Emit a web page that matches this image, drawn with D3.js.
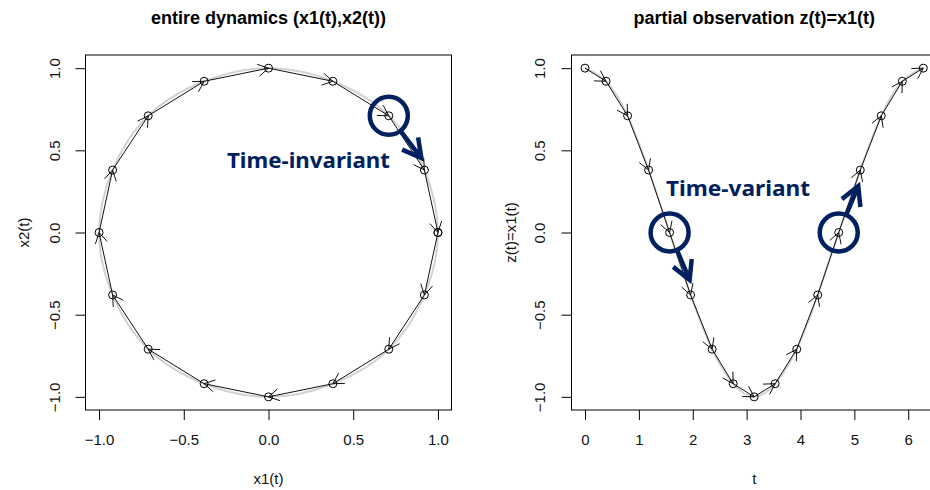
<!DOCTYPE html>
<html>
<head>
<meta charset="utf-8">
<script src="https://cdn.jsdelivr.net/npm/d3@7"></script>
<style>
  body { margin: 0; background: #fff; }
  svg { display: block; font-family: "Liberation Sans", Arial, sans-serif; }
</style>
</head>
<body>
<svg id="chart" width="930" height="490"></svg>
<script>
const tVals  = [0, 0.39, 0.79, 1.18, 1.57, 1.96, 2.36, 2.75, 3.14, 3.53, 3.93, 4.32, 4.71, 5.11, 5.50, 5.89, 6.28];
const x1Vals = [1, 0.92, 0.71, 0.38, 0, -0.38, -0.71, -0.92, -1, -0.92, -0.71, -0.38, 0, 0.38, 0.71, 0.92, 1];
const x2Vals = [0, -0.38, -0.71, -0.92, -1, -0.92, -0.71, -0.38, 0, 0.38, 0.71, 0.92, 1, 0.92, 0.71, 0.38, 0];

// tick labels
const unitTicks = [-1, -0.5, 0, 0.5, 1];
const tTicks = [0, 1, 2, 3, 4, 5, 6];

const titles = ["entire dynamics (x1(t),x2(t))", "partial observation z(t)=x1(t)"];
const xLabels = ["x1(t)", "t"];
const yLabels = ["x2(t)", "z(t)=x1(t)"];

const navy = "#002060";
const svg = d3.select("#chart");
svg.append("rect").attr("width", 930).attr("height", 490).attr("fill", "#fff");

// arrow path: shaft a->b plus open V head at b
function arrowPath(a, b, len, ang) {
    const th = Math.atan2(b[1] - a[1], b[0] - a[0]);
    const h1 = [b[0] - len * Math.cos(th - ang), b[1] - len * Math.sin(th - ang)];
    const h2 = [b[0] - len * Math.cos(th + ang), b[1] - len * Math.sin(th + ang)];
    return `M${a[0]},${a[1]}L${b[0]},${b[1]}M${h1[0]},${h1[1]}L${b[0]},${b[1]}L${h2[0]},${h2[1]}`;
}

function panel(opt) {
    const x = d3.scaleLinear().domain(opt.xDomain).range([opt.left, opt.right]);
    const y = d3.scaleLinear().domain([-1.08, 1.08]).range([410, 55]);
    const g = svg.append("g");

    // axes, R style: outward ticks, no domain line
    const xa = g.append("g")
        .attr("transform", `translate(0,410)`)
        .call(d3.axisBottom(x).tickValues(opt.xTicks).tickSize(10).tickPadding(14).tickSizeOuter(0)
            .tickFormat(opt.xFormat));
    const ya = g.append("g")
        .attr("transform", `translate(${opt.left},0)`)
        .call(d3.axisLeft(y).tickValues(unitTicks).tickSize(10).tickSizeOuter(0)
            .tickFormat(d3.format(".1f")));
    [xa, ya].forEach(a => {
        a.select(".domain").remove();
        a.selectAll("line").attr("stroke", "#000");
        a.selectAll("text").attr("font-size", 15).attr("fill", "#111")
            .attr("font-family", "Liberation Sans, Arial, sans-serif");
    });
    ya.selectAll("text")
        .attr("x", 0).attr("y", 0).attr("dy", "0.35em")
        .attr("text-anchor", "middle")
        .attr("transform", `translate(${-opt.tickOff},0) rotate(-90)`);

    // plot box
    g.append("rect")
        .attr("x", opt.left).attr("y", 55)
        .attr("width", opt.right - opt.left).attr("height", 355)
        .attr("fill", "none").attr("stroke", "#000").attr("stroke-width", 1);

    const cx = (opt.left + opt.right) / 2;
    g.append("text").attr("x", cx).attr("y", 24)
        .attr("text-anchor", "middle").attr("font-size", 18).attr("font-weight", "bold")
        .text(opt.title);
    g.append("text").attr("x", cx).attr("y", 484)
        .attr("text-anchor", "middle").attr("font-size", 15).attr("fill", "#111")
        .text(opt.xLabel);
    g.append("text")
        .attr("transform", `translate(${opt.left - opt.labOff},232.5) rotate(-90)`)
        .attr("dy", "0.35em")
        .attr("text-anchor", "middle").attr("font-size", 15).attr("fill", "#111")
        .text(opt.yLabel);

    const plot = g.append("g");
    const pts = opt.xs.map((v, i) => [x(v), y(opt.ys[i])]);

    // smooth reference curve (light grey)
    plot.append("path")
        .attr("d", d3.line().curve(opt.curve)(opt.closed ? pts.slice(0, -1) : pts))
        .attr("fill", "none").attr("stroke", "#d2d2d2").attr("stroke-width", 2);

    // step arrows
    plot.selectAll(".step").data(d3.range(pts.length - 1)).enter()
        .append("path").attr("class", "step")
        .attr("d", i => arrowPath(pts[i], pts[i + 1], 12, Math.PI / 6))
        .attr("fill", "none").attr("stroke", "#111").attr("stroke-width", 1);

    // sample points
    plot.selectAll(".pt").data(pts).enter()
        .append("circle").attr("class", "pt")
        .attr("cx", d => d[0]).attr("cy", d => d[1]).attr("r", 4)
        .attr("fill", "none").attr("stroke", "#000").attr("stroke-width", 1);

    return {g, x, y, pts};
}

const L = panel({
    left: 85.5, right: 451.5, xDomain: [-1.08, 1.08], xTicks: unitTicks,
    xFormat: d3.format(".1f"), tickOff: 31, labOff: 62,
    title: titles[0], xLabel: xLabels[0], yLabel: yLabels[0],
    xs: x1Vals, ys: x2Vals, curve: d3.curveCatmullRomClosed.alpha(0.5), closed: true
});

const R = panel({
    left: 571.5, right: 937, xDomain: [-0.2513, 6.5345], xTicks: tTicks,
    xFormat: d3.format("d"), tickOff: 32, labOff: 61,
    title: titles[1], xLabel: xLabels[1], yLabel: yLabels[1],
    xs: tVals, ys: x1Vals, curve: d3.curveNatural, closed: false
});

// annotations: ring on a sample, bold arrow toward the next one
function callout(p, pNext, tipOff) {
    const tip = [pNext[0] + tipOff[0], pNext[1] + tipOff[1]];
    const d = Math.hypot(tip[0] - p[0], tip[1] - p[1]);
    const start = [p[0] + 20 * (tip[0] - p[0]) / d, p[1] + 20 * (tip[1] - p[1]) / d];
    svg.append("circle").attr("cx", p[0]).attr("cy", p[1]).attr("r", 19)
        .attr("fill", "none").attr("stroke", navy).attr("stroke-width", 4.5);
    svg.append("path").attr("d", arrowPath(start, tip, 21, 0.5))
        .attr("fill", "none").attr("stroke", navy).attr("stroke-width", 4.5)
        .attr("stroke-linejoin", "miter");
}

callout(L.pts[14], L.pts[15], [-3, -12]);
callout(R.pts[4], R.pts[5], [-1, -15]);
callout(R.pts[12], R.pts[13], [-2, 16]);

svg.append("text").attr("x", 227).attr("y", 168)
    .attr("font-family", "'Noto Sans', 'Open Sans', sans-serif")
    .attr("font-size", 22).attr("font-weight", "bold").attr("fill", navy)
    .attr("textLength", 163).attr("lengthAdjust", "spacingAndGlyphs")
    .text("Time-invariant");
svg.append("text").attr("x", 666).attr("y", 196)
    .attr("font-family", "'Noto Sans', 'Open Sans', sans-serif")
    .attr("font-size", 22).attr("font-weight", "bold").attr("fill", navy)
    .attr("textLength", 144).attr("lengthAdjust", "spacingAndGlyphs")
    .text("Time-variant");
</script>
</body>
</html>
